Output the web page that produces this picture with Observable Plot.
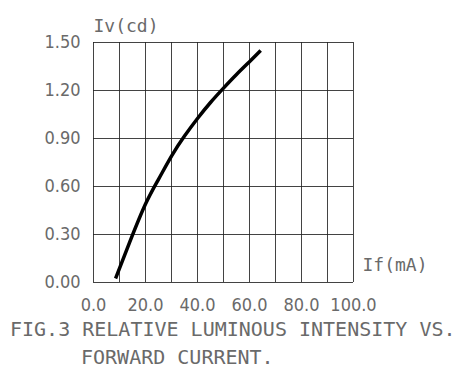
<!DOCTYPE html>
<html>
<head>
<meta charset="utf-8">
<script src="https://cdn.jsdelivr.net/npm/d3@7"></script>
<script src="https://cdn.jsdelivr.net/npm/@observablehq/plot@0.6"></script>
<style>
  html, body { margin: 0; padding: 0; background: #fff; }
  #chart { width: 459px; }
  .caption {
    font-family: "DejaVu Sans Mono", monospace;
    font-size: 20px;
    line-height: 28px;
    color: #6a6a6a;
    margin-top: -3px;
    white-space: pre;
  }
  .caption .l1 { padding-left: 10px; }
  .caption .l2 { padding-left: 81px; }
</style>
</head>
<body>
<div id="chart"></div>
<script>
// Forward current (mA) vs. luminous intensity (cd)
const forwardCurrent = [8.5, 14, 20, 25, 30, 35, 40, 45, 50, 55, 60, 64.3];
const intensity = [0.025, 0.255, 0.49, 0.645, 0.79, 0.915, 1.025, 1.125, 1.215, 1.30, 1.38, 1.45];

const xTicks = [0, 20, 40, 60, 80, 100];
const yTicks = [0, 0.3, 0.6, 0.9, 1.2, 1.5];
const xGrid = d3.range(0, 101, 10);

const yTitle = "Iv(cd)";
const xTitle = "If(mA)";
const captionLines = ["FIG.3 RELATIVE LUMINOUS INTENSITY VS.", "FORWARD CURRENT."];

const curve = forwardCurrent.map((x, i) => ({x, y: intensity[i]}));

const mono = "DejaVu Sans Mono, monospace";
const numFont = "DejaVu Sans Condensed, DejaVu Sans, sans-serif";
const ink = "#6a6a6a";

const plot = Plot.plot({
  width: 459,
  height: 318,
  marginLeft: 93,
  marginRight: 106,
  marginTop: 42,
  marginBottom: 36,
  style: {fontFamily: mono, fontSize: "18px", color: ink, background: "#fff"},
  x: {domain: [0, 100]},
  y: {domain: [0, 1.5]},
  marks: [
    Plot.gridX(xGrid, {stroke: "#222", strokeOpacity: 0.85, strokeWidth: 1}),
    Plot.gridY(yTicks, {stroke: "#222", strokeOpacity: 0.85, strokeWidth: 1}),
    Plot.axisX(xTicks, {tickSize: 0, tickPadding: 16, tickFormat: d => d.toFixed(1), label: null, fill: ink, fontFamily: numFont, fontSize: 18}),
    Plot.axisY(yTicks, {tickSize: 0, tickPadding: 13, tickFormat: d => d.toFixed(2), label: null, fill: ink, fontFamily: numFont, fontSize: 18}),
    Plot.line(curve, {x: "x", y: "y", curve: "natural", stroke: "#000", strokeWidth: 3.5, strokeLinecap: "butt"}),
    Plot.text([yTitle], {frameAnchor: "top-left", text: d => d, textAnchor: "start", dy: -23, fill: ink, fontSize: 18}),
    Plot.text([xTitle], {frameAnchor: "bottom-right", text: d => d, textAnchor: "start", dx: 9, dy: -12, fill: ink, fontSize: 18})
  ]
});

document.getElementById("chart").append(plot);

const cap = document.createElement("div");
cap.className = "caption";
captionLines.forEach((t, i) => {
  const d = document.createElement("div");
  d.className = "l" + (i + 1);
  d.textContent = t;
  cap.append(d);
});
document.getElementById("chart").append(cap);
</script>
</body>
</html>
